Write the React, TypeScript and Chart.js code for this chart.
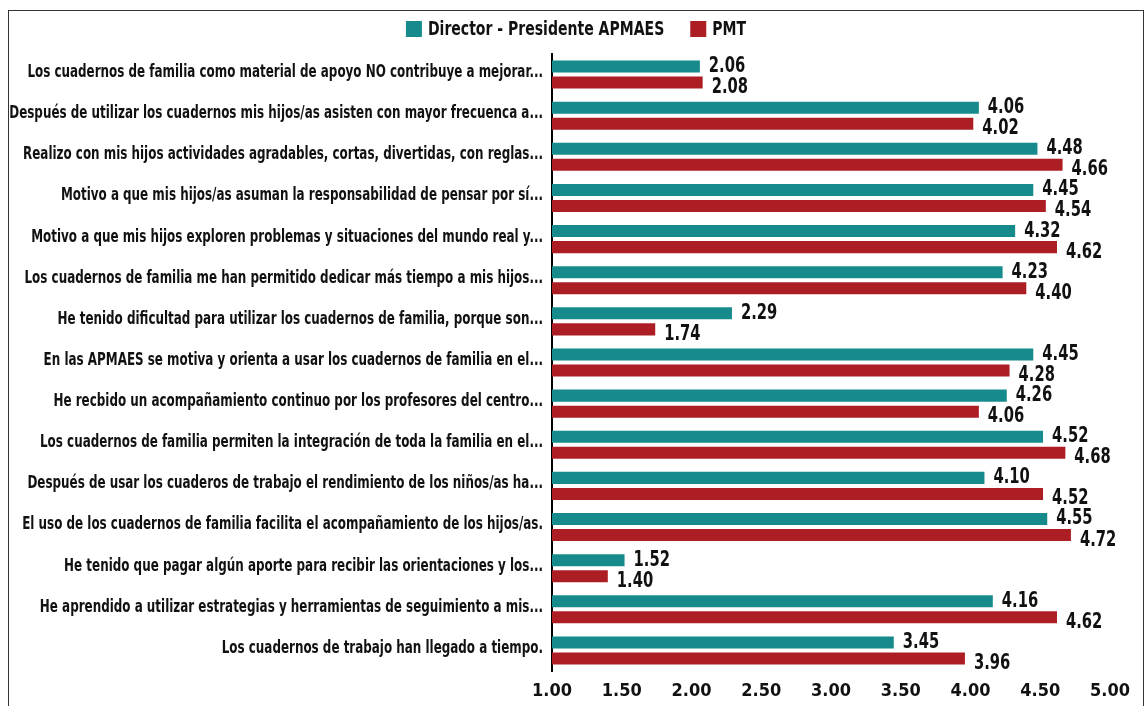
import React, { useEffect, useRef } from "react";
import { Chart, registerables } from "chart.js";

Chart.register(...registerables);

const categories: string[] = [
  "Los cuadernos de familia como material de apoyo NO contribuye a mejorar...",
  "Después de utilizar los cuadernos mis hijos/as asisten con mayor frecuenca a...",
  "Realizo con mis hijos actividades agradables, cortas, divertidas, con reglas...",
  "Motivo a que mis hijos/as asuman la responsabilidad de pensar por sí...",
  "Motivo a que mis hijos exploren problemas y situaciones del mundo real y...",
  "Los cuadernos de familia me han permitido dedicar más tiempo a mis hijos...",
  "He tenido dificultad para utilizar los cuadernos de familia, porque son...",
  "En las APMAES se motiva y orienta a usar los cuadernos de familia en el...",
  "He recbido un acompañamiento continuo por los profesores del centro...",
  "Los cuadernos de familia permiten la integración de toda la familia en el...",
  "Después de usar los cuaderos de trabajo el rendimiento de los niños/as ha...",
  "El uso de los cuadernos de familia facilita el acompañamiento de los hijos/as.",
  "He tenido que pagar algún aporte para recibir las orientaciones y los...",
  "He aprendido a utilizar estrategias y herramientas de seguimiento a mis...",
  "Los cuadernos de trabajo han llegado a tiempo.",
];

const directorValues: number[] = [2.06, 4.06, 4.48, 4.45, 4.32, 4.23, 2.29, 4.45, 4.26, 4.52, 4.1, 4.55, 1.52, 4.16, 3.45];
const pmtValues: number[] = [2.08, 4.02, 4.66, 4.54, 4.62, 4.4, 1.74, 4.28, 4.06, 4.68, 4.52, 4.72, 1.4, 4.62, 3.96];

const seriesNames: string[] = ["Director - Presidente APMAES", "PMT"];
const xMin = 1;
const xMax = 5;
const xStep = 0.5;

const FONT = "'DejaVu Sans Condensed', 'Liberation Sans', sans-serif";
const TEAL = "#178b8b";
const RED = "#ad1e24";
const TEXT = "#111";
const SX = 0.78;

function drawNarrow(ctx: CanvasRenderingContext2D, text: string, x: number, y: number, align: CanvasTextAlign) {
  ctx.save();
  ctx.translate(x, y);
  ctx.scale(SX, 1);
  ctx.textAlign = align;
  ctx.fillText(text, 0, 0);
  ctx.restore();
}

const narrowText = {
  id: "narrowText",
  afterDatasetsDraw(chart: any) {
    const ctx: CanvasRenderingContext2D = chart.ctx;
    const area = chart.chartArea;
    ctx.save();
    ctx.fillStyle = TEXT;
    ctx.textBaseline = "middle";

    // category labels
    const yScale = chart.scales.y;
    ctx.font = `bold 17px ${FONT}`;
    (chart.data.labels as string[]).forEach((lab, i) => {
      const y = yScale.getPixelForValue(i);
      drawNarrow(ctx, lab, area.left - 9, y - 2, "right");
    });

    // value labels
    ctx.font = `bold 21px ${FONT}`;
    chart.data.datasets.forEach((ds: any, di: number) => {
      const meta = chart.getDatasetMeta(di);
      meta.data.forEach((bar: any, i: number) => {
        const v = ds.data[i] as number;
        const dy = di === 0 ? 0 : 5;
        drawNarrow(ctx, v.toFixed(2), bar.x + 9, bar.y + dy, "left");
      });
    });

    // legend
    ctx.font = `bold 20px ${FONT}`;
    const box = 16;
    const gapBoxText = 6;
    const gapItems = 26;
    const widths = chart.data.datasets.map((ds: any) => ctx.measureText(ds.label).width * SX);
    const total =
      widths.reduce((a: number, w: number) => a + box + gapBoxText + w, 0) + gapItems * (widths.length - 1);
    let x = chart.width / 2 - total / 2;
    const ly = 18;
    chart.data.datasets.forEach((ds: any, di: number) => {
      ctx.fillStyle = ds.backgroundColor;
      ctx.fillRect(x, ly - box / 2, box, box);
      ctx.fillStyle = TEXT;
      drawNarrow(ctx, ds.label, x + box + gapBoxText, ly + 1, "left");
      x += box + gapBoxText + widths[di] + gapItems;
    });

    ctx.restore();
  },
};

export default function App() {
  const canvasRef = useRef<HTMLCanvasElement | null>(null);

  useEffect(() => {
    if (!canvasRef.current) return;
    const chart = new Chart(canvasRef.current, {
      type: "bar",
      data: {
        labels: categories,
        datasets: [
          {
            label: seriesNames[0],
            data: directorValues,
            backgroundColor: TEAL,
            categoryPercentage: 0.78,
            barPercentage: 0.75,
          },
          {
            label: seriesNames[1],
            data: pmtValues,
            backgroundColor: RED,
            categoryPercentage: 0.78,
            barPercentage: 0.75,
          },
        ],
      },
      options: {
        indexAxis: "y",
        animation: false,
        responsive: true,
        maintainAspectRatio: false,
        layout: { padding: { top: 43, right: 33, bottom: 0, left: 0 } },
        plugins: {
          legend: { display: false },
          tooltip: { enabled: false },
        },
        scales: {
          x: {
            type: "linear",
            min: xMin,
            max: xMax,
            ticks: {
              stepSize: xStep,
              padding: 10,
              color: TEXT,
              font: { family: FONT, size: 18, weight: "bold" },
              callback: (v: any) => Number(v).toFixed(2),
            },
            grid: { display: false, drawTicks: false },
            border: { display: false },
            afterFit: (scale: any) => {
              scale.height = 35;
            },
          },
          y: {
            type: "category",
            ticks: { display: false },
            grid: { display: false, drawTicks: false },
            border: { display: true, color: "#000", width: 2 },
            afterFit: (scale: any) => {
              scale.width = 543;
            },
          },
        },
      },
      plugins: [narrowText],
    });
    return () => chart.destroy();
  }, []);

  return (
    <div
      style={{
        position: "absolute",
        left: 8,
        top: 10,
        width: 1136,
        height: 696,
        boxSizing: "border-box",
        border: "1px solid #333",
        borderBottom: "none",
        background: "#fff",
      }}
    >
      <div style={{ position: "relative", width: 1134, height: 695 }}>
        <canvas ref={canvasRef} />
      </div>
    </div>
  );
}
